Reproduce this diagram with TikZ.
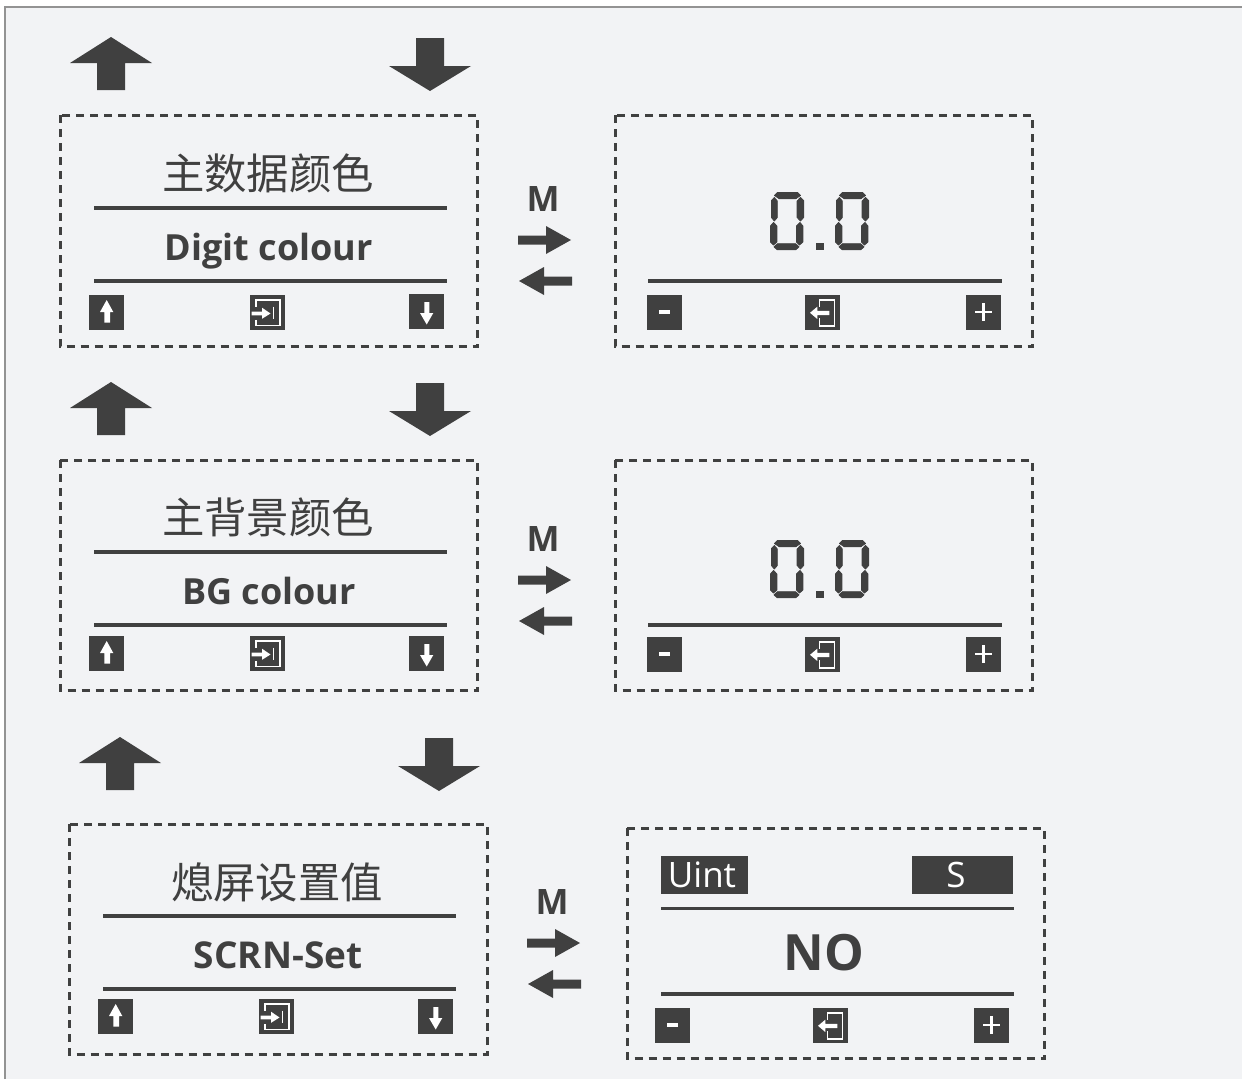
\documentclass[tikz,border=0pt]{standalone}
\usepackage{fontspec}
\setmainfont{Open Sans}
\newfontfamily\cjk{Noto Sans CJK SC}
\definecolor{ink}{HTML}{404040}
\definecolor{paper}{HTML}{F2F3F5}
\newcommand{\bigup}[2]{\fill[ink,shift={(#1,#2)}] (41,0)--(82,26)--(55,26)--(55,53)--(27,53)--(27,26)--(0,26)--cycle;}
\newcommand{\bigdown}[2]{\fill[ink,shift={(#1,#2)}] (27,0)--(55,0)--(55,28)--(82,28)--(41,53)--(0,28)--(27,28)--cycle;}
\newcommand{\modeswitch}[3]{%
  \node[mlabel] (#3M) at (#1,#2) {M};
  \fill[ink,shift={(#1,#2)}] (-25,36.5)--(3,36.5)--(3,27)--(28,41)--(3,55)--(3,45.5)--(-25,45.5)--cycle;
  \fill[ink,shift={(#1,#2)}] (29,77.5)--(1,77.5)--(1,68)--(-24,82)--(1,96)--(1,86.5)--(29,86.5)--cycle;
}
\newcommand{\keyup}[2]{\begin{scope}[shift={(#1,#2)}]\fill[ink] (0,0) rectangle (35,35);
  \fill[white] (17.7,5)--(24.3,17)--(21,17)--(21,27.7)--(15.3,27.7)--(15.3,17)--(11,17)--cycle;\end{scope}}
\newcommand{\keydown}[2]{\begin{scope}[shift={(#1,#2)}]\fill[ink] (0,0) rectangle (35,35);
  \fill[white] (15.3,8)--(20.3,8)--(20.3,19)--(24.3,19)--(17.7,30.5)--(11,19)--(15.3,19)--cycle;\end{scope}}
\newcommand{\keyenter}[2]{\begin{scope}[shift={(#1,#2)}]\fill[ink] (0,0) rectangle (35,35);
  \draw[white,line width=1.5] (5.8,11.5)--(5.8,4.8)--(30,4.8)--(30,30.6)--(5.8,30.6)--(5.8,24.5);
  \fill[white] (1.7,16.7)--(12,16.7)--(12,12.7)--(20.5,18.5)--(12,23.8)--(12,20.3)--(1.7,20.3)--cycle;
  \draw[white,line width=1.3] (23.5,11.7)--(23.5,23.7);\end{scope}}
\newcommand{\keyback}[2]{\begin{scope}[shift={(#1,#2)}]\fill[ink] (0,0) rectangle (35,35);
  \draw[white,line width=1.5] (14.3,11.7)--(14.3,4.8)--(29.3,4.8)--(29.3,31)--(14.3,31)--(14.3,23);
  \fill[white] (5,17.8)--(12.3,11.7)--(12.3,15.8)--(24.3,15.8)--(24.3,20.2)--(12.3,20.2)--(12.3,24)--cycle;\end{scope}}
\newcommand{\keyminus}[2]{\begin{scope}[shift={(#1,#2)}]\fill[ink] (0,0) rectangle (35,35);
  \fill[white] (12.3,15.3) rectangle (23,18.7);\end{scope}}
\newcommand{\keyplus}[2]{\begin{scope}[shift={(#1,#2)}]\fill[ink] (0,0) rectangle (35,35);
  \fill[white] (8.7,15.5) rectangle (26.3,17.8);\fill[white] (16.4,7.5) rectangle (18.7,25.7);\end{scope}}
% seven-segment zero, width 33, height 58
\newcommand{\segzero}[2]{\begin{scope}[shift={(#1,#2)},segment/.style={fill=ink,draw=ink,line width=0.8,line join=round}]
  \path[segment] (6.5,0.4)--(26.5,0.4)--(29.5,3.5)--(25,6.6)--(8,6.6)--(3.5,3.5)--cycle;
  \path[segment] (6.5,51.7)--(24.5,51.7)--(28,54.8)--(25,57.6)--(6,57.6)--(3,54.8)--cycle;
  \path[segment] (3.3,5.5)--(6.3,9)--(6.3,25.5)--(3.3,29)--(0.4,25.5)--(0.4,8.5)--cycle;
  \path[segment] (29.5,5.5)--(32.6,8.5)--(32.6,25.5)--(29.5,29)--(26.1,25.5)--(26.1,9)--cycle;
  \path[segment] (2.5,30.5)--(5.9,34)--(5.9,50)--(2.5,53)--(-0.6,50)--(-0.6,34)--cycle;
  \path[segment] (29,30.5)--(31.9,34)--(31.9,50)--(28.5,53)--(25.4,50)--(25.4,34)--cycle;
\end{scope}}
\tikzset{
  x=1pt,y=-1pt,
  dashbox/.style={draw=ink,line width=3,dash pattern=on 8pt off 6pt},
  rule/.style={draw=ink,line width=3.2},
  cntitle/.style={text=ink,font=\cjk\fontsize{42.4}{46}\selectfont,inner sep=0},
  entitle/.style={text=ink,font=\bfseries\fontsize{36}{40}\selectfont,inner sep=0},
  mlabel/.style={text=ink,font=\bfseries\fontsize{35}{38}\selectfont,inner sep=0},
  bignote/.style={text=ink,font=\bfseries\fontsize{50}{54}\selectfont,inner sep=0},
  unitlabel/.style={text=white,font=\fontsize{35}{38}\selectfont,inner sep=0},
}
\begin{document}
\begin{tikzpicture}
\useasboundingbox (0,0) rectangle (1242,1079);
\fill[white] (0,0) rectangle (1242,1079);
\fill[paper] (4.5,7.5) rectangle (1242,1079);
\draw[gray!85,line width=2.6] (5,1079)--(5,7)--(1242,7);
% row 1
\bigup{70}{37}\bigdown{389}{38}
\draw[dashbox] (60,115) rectangle (477.5,346.5);
\node[cntitle] (t1) at (268,173) {主数据颜色};
\draw[rule] (94,208)--(447,208);
\node[entitle] (e1) at (269,251) {Digit colour};
\draw[rule] (94,281)--(447,281);
\keyup{89}{295}\keyenter{250}{295}\keydown{409}{294}
\modeswitch{543}{199}{a}
\draw[dashbox] (615,115) rectangle (1032.5,346.5);
\segzero{771}{192}\segzero{836}{192}
\fill[ink] (816,243) rectangle (823.5,250);
\draw[rule] (648,281)--(1002,281);
\keyminus{647}{295}\keyback{805}{295}\keyplus{966}{295}
% row 2
\bigup{70}{382}\bigdown{389}{383}
\draw[dashbox] (60,460) rectangle (477.5,690.5);
\node[cntitle] (t2) at (268,517) {主背景颜色};
\draw[rule] (94,552)--(447,552);
\node[entitle] (e2) at (269,591) {BG colour};
\draw[rule] (94,625)--(447,625);
\keyup{89}{636}\keyenter{250}{636}\keydown{409}{636}
\modeswitch{543}{539}{b}
\draw[dashbox] (615,460) rectangle (1032.5,690.5);
\segzero{771}{540}\segzero{836}{540}
\fill[ink] (816,591) rectangle (823.5,598);
\draw[rule] (648,625)--(1002,625);
\keyminus{647}{637}\keyback{805}{637}\keyplus{966}{637}
% row 3
\bigup{79}{737}\bigdown{398}{738}
\draw[dashbox] (69,824) rectangle (487,1054.5);
\node[cntitle] (t3) at (277,882) {熄屏设置值};
\draw[rule] (103,916)--(456,916);
\node[entitle,font=\bfseries\fontsize{37}{40}\selectfont] (e3) at (278,955.5) {SCRN-Set};
\draw[rule] (103,989)--(456,989);
\keyup{98}{999}\keyenter{259}{999}\keydown{418}{999}
\modeswitch{552}{902}{c}
\draw[dashbox] (627,828) rectangle (1044.5,1058.5);
\fill[ink] (661,856) rectangle (748,894);
\fill[ink] (912,856) rectangle (1013,894);
\node[unitlabel,anchor=center] (u1) at (702,875) {Uint};
\node[unitlabel,anchor=center] (u2) at (956,875) {S};
\draw[rule] (661,908.5)--(1014,908.5);
\node[bignote] (no) at (824,952.5) {NO};
\draw[rule] (661,994)--(1014,994);
\keyminus{655}{1008}\keyback{813}{1008}\keyplus{974}{1008}
\end{tikzpicture}
\end{document}
